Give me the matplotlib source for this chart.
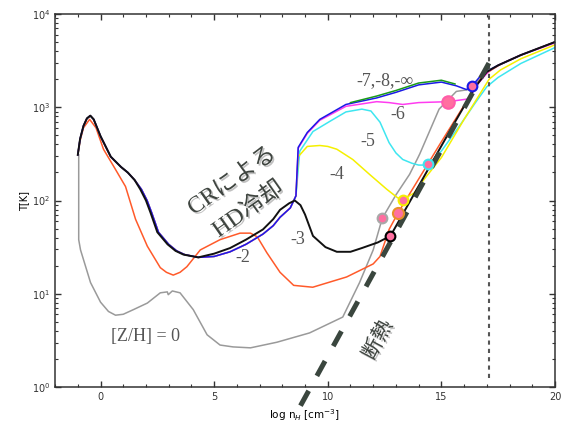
import numpy as np
import matplotlib.pyplot as plt
import matplotlib.patheffects as pe

# values: x = log n_H, values below are log10 T
black_x = [-1.0, -0.9, -0.75, -0.6, -0.45, -0.3, 0.0, 0.45, 0.9, 1.2, 1.5, 1.75, 2.0, 2.2, 2.5, 2.95, 3.3, 3.65,
           4.3, 5.0, 5.7, 6.4, 7.15, 7.6, 7.9, 8.3, 8.55,
           8.8, 9.0, 9.35, 9.9, 10.4, 11.0, 11.5, 12.2, 12.76,
           13.5, 14.5, 15.5, 16.5, 17.0, 17.5, 18.5, 20.0]
black_lt = [2.49, 2.66, 2.80, 2.88, 2.91, 2.87, 2.69, 2.47, 2.36, 2.30, 2.22, 2.12, 2.00, 1.87, 1.66, 1.53, 1.46, 1.42,
            1.39, 1.43, 1.49, 1.58, 1.69, 1.80, 1.90, 1.97, 2.0,
            1.95, 1.85, 1.62, 1.50, 1.45, 1.45, 1.49, 1.55, 1.62,
            1.94, 2.37, 2.80, 3.22, 3.38, 3.45, 3.56, 3.70]

# shared cosmic-ray branch of the coloured tracks
cr_x = [-1.0, -0.9, -0.75, -0.6, -0.45, -0.3, 0.0, 0.45, 0.9, 1.2, 1.5, 1.8, 2.05, 2.25, 2.55, 3.0, 3.35, 3.7,
        4.3, 5.0, 5.7, 6.4, 7.15, 7.6, 7.9, 8.35, 8.6]
cr_lt = [2.49, 2.66, 2.80, 2.88, 2.91, 2.87, 2.69, 2.47, 2.36, 2.30, 2.22, 2.12, 2.00, 1.87, 1.66, 1.53, 1.46, 1.42,
         1.39, 1.40, 1.45, 1.53, 1.64, 1.73, 1.82, 1.92, 2.05]

yellow_x = [8.7, 9.1, 9.65, 10.0, 10.4, 11.1, 11.84, 12.6, 13.07, 13.3, 13.8, 14.25, 15.0, 16.0, 17.1, 17.6, 18.5, 20.0]
yellow_lt = [2.47, 2.58, 2.59, 2.58, 2.55, 2.44, 2.28, 2.12, 2.03, 2.01, 2.08, 2.23, 2.46, 2.87, 3.30, 3.40, 3.52, 3.67]

cyan_x = [8.77, 9.35, 10.1, 10.8, 11.5, 11.9, 12.3, 12.7, 13.0, 13.3, 13.7, 14.0, 14.4, 15.0, 15.8, 16.5, 17.0,
          17.5, 18.5, 20.0]
cyan_lt = [2.53, 2.74, 2.85, 2.95, 2.98, 2.96, 2.84, 2.62, 2.51, 2.44, 2.40, 2.38, 2.38, 2.53, 2.80, 3.05, 3.22,
           3.32, 3.47, 3.64]

blue_x = [8.7, 9.1, 9.65, 10.8, 12.15, 13.0, 14.0, 15.0, 15.66, 16.1, 16.36, 16.7, 17.1, 17.5, 18.5, 20.0]
blue_lt = [2.57, 2.73, 2.87, 3.03, 3.10, 3.16, 3.24, 3.27, 3.23, 3.19, 3.23, 3.33, 3.40, 3.45, 3.56, 3.70]

green_x = [11.0, 12.15, 13.0, 14.0, 15.0, 15.6]
green_lt = [3.05, 3.12, 3.18, 3.26, 3.29, 3.25]

magenta_x = [8.7, 9.1, 9.65, 10.8, 12.15, 12.7, 13.3, 14.0, 15.3, 16.2, 16.6, 17.1, 17.5, 18.5, 20.0]
magenta_lt = [2.56, 2.72, 2.86, 3.01, 3.06, 3.05, 3.03, 3.05, 3.06, 3.09, 3.25, 3.39, 3.45, 3.56, 3.69]

orange_x = [-1.0, -0.9, -0.75, -0.48, -0.2, 0.13, 0.57, 1.1, 1.54, 2.06, 2.63, 2.9, 3.2, 3.5, 3.8, 4.39, 5.26,
            6.14, 6.6, 6.9, 7.32, 7.9, 8.5, 9.34, 10.83, 12.0, 12.3, 12.7, 13.1,
            14.0, 15.0, 16.0, 16.8, 17.2, 17.6, 18.5, 20.0]
orange_lt = [2.49, 2.64, 2.78, 2.87, 2.78, 2.55, 2.37, 2.15, 1.80, 1.51, 1.28, 1.23, 1.20, 1.23, 1.29, 1.47, 1.58,
             1.65, 1.65, 1.61, 1.44, 1.23, 1.09, 1.07, 1.18, 1.32, 1.40, 1.69, 1.87,
             2.23, 2.63, 3.02, 3.33, 3.40, 3.46, 3.56, 3.70]

gray_x = [-0.96, -0.96, -0.88, -0.44, 0.0, 0.35, 0.66, 1.0, 1.45, 2.06, 2.63, 2.94, 2.98, 3.16, 3.5, 4.08, 4.69,
          5.26, 5.83, 6.6, 7.76, 9.2, 10.66, 11.4, 12.0, 12.4, 13.0, 13.6, 13.95, 14.05, 14.9, 15.66, 16.2, 16.6, 17.0]
gray_lt = [2.49, 1.58, 1.47, 1.12, 0.91, 0.81, 0.77, 0.78, 0.83, 0.90, 1.01, 1.02, 0.99, 1.03, 1.01, 0.83, 0.56,
           0.45, 0.43, 0.42, 0.48, 0.58, 0.75, 1.12, 1.47, 1.81, 2.06, 2.28, 2.45, 2.50, 2.98, 3.17, 3.19, 3.28, 3.38]

# end points (pink dots), edge colour = track colour
dot_x = [16.36, 15.3, 14.4, 13.3, 13.1, 12.4, 12.76]
dot_lt = [3.23, 3.06, 2.39, 2.01, 1.87, 1.81, 1.62]
dot_edge = ['#1a1ae6', '#ff5ca8', '#3ee6f0', '#f5f000', '#e8902a', '#a8a8a8', 'black']
dot_size = [7, 9, 7, 7, 8, 7, 7]

adiabat_x = [8.8, 17.4]
adiabat_T = [0.63, 4070]

labels = ['-7,-8,-\u221e', '-6', '-5', '-4', '-3', '-2', '[Z/H] = 0']
label_x = [12.5, 13.07, 11.75, 10.4, 8.68, 6.27, 2.0]
label_T = [1950, 835, 430, 190, 38, 24.5, 3.45]

fig = plt.figure(figsize=(5.62, 4.30), dpi=100)
ax = fig.add_axes([0.098, 0.1, 0.8895, 0.8674])


def T(v):
    return 10 ** np.asarray(v)


lw = 1.1
ax.plot(gray_x, T(gray_lt), color='#9a9a9a', lw=lw)
ax.plot(orange_x, T(orange_lt), color='#ff5a2a', lw=lw)
for cx, cl, c in [(cyan_x, cyan_lt, '#3ee6f0'), (yellow_x, yellow_lt, '#f5f000'),
                  (magenta_x, magenta_lt, '#ff3cf0'), (blue_x, blue_lt, '#1a1ae6')]:
    ax.plot(cr_x + cx, T(cr_lt + cl), color=c, lw=lw)
ax.plot(green_x, T(green_lt), color='#1a9a1a', lw=lw)
ax.plot(black_x, T(black_lt), color='#111111', lw=1.4)

for x, lt, ec, s in zip(dot_x, dot_lt, dot_edge, dot_size):
    ax.plot(x, 10 ** lt, 'o', ms=s, mfc='#ff6fa0', mec=ec, mew=1.5, zorder=5)

ax.plot([17.1, 17.1], [1.26, 1e4], color='#555555', lw=1.5, ls=(0, (2, 2)))
ad, = ax.plot(adiabat_x, adiabat_T, color='#3a463e', lw=3.6, clip_on=False, zorder=4)
ad.set_dashes((3.4, 3.4))

for s, x, y in zip(labels, label_x, label_T):
    ax.text(x, y, s, ha='center', va='center', fontsize=13, color='#555555',
            family=['Liberation Serif', 'DejaVu Serif'])

shadow = [pe.SimplePatchShadow(offset=(1.2, -1.2), shadow_rgbFace='#777777', alpha=0.45), pe.Normal()]
for s, x, y in [('CRによる', 5.8, 160), ('HD冷却', 6.5, 80)]:
    ax.text(x, y, s, rotation=35, rotation_mode='anchor', ha='center', va='center',
            fontsize=17, color='#3f4540', family=['Liberation Serif', 'Noto Sans CJK JP'],
            path_effects=shadow, zorder=6)
ax.text(12.2, 3.2, '断熱', rotation=62, rotation_mode='anchor', ha='center', va='center',
        fontsize=15, color='#3f4540', family=['Noto Sans CJK JP'], path_effects=shadow, zorder=6)

ax.set_yscale('log')
ax.set_xlim(-2, 20)
ax.set_ylim(1, 1e4)
ax.set_xticks([0, 5, 10, 15, 20])
ax.set_xticks(np.arange(-2, 21), minor=True)
ax.tick_params(which='both', direction='in', top=True, right=True, labelsize=7, colors='#333333')
ax.tick_params(which='major', length=4, width=1)
ax.tick_params(which='minor', length=2.5, width=0.8)
for sp in ax.spines.values():
    sp.set_linewidth(1.1)
    sp.set_color('#333333')
ax.set_ylabel('T[K]', fontsize=7, labelpad=2)
ax.set_xlabel('log n$_H$ [cm$^{-3}$]', fontsize=7.5, labelpad=4)

fig.savefig('out.png', dpi=100)
